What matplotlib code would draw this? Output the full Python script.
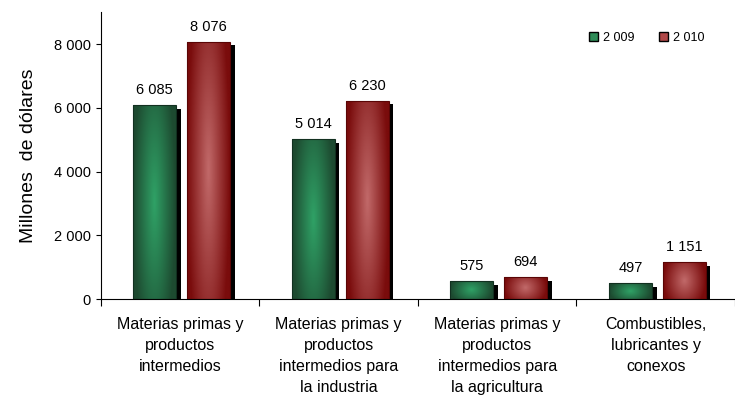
import numpy as np
import matplotlib.pyplot as plt
from matplotlib.colors import LinearSegmentedColormap
from matplotlib.patches import Patch

plt.rcParams['font.family'] = ['Liberation Sans', 'DejaVu Sans']

categories = ["Materias primas y\nproductos\nintermedios",
              "Materias primas y\nproductos\nintermedios para\nla industria",
              "Materias primas y\nproductos\nintermedios para\nla agricultura",
              "Combustibles,\nlubricantes y\nconexos"]
v2009 = [6085, 5014, 575, 497]
v2010 = [8076, 6230, 694, 1151]

def fmt(v):
    return f"{v:,}".replace(",", " ")

green = LinearSegmentedColormap.from_list("g", ["#1d4a30", "#2fa065"])
red = LinearSegmentedColormap.from_list("r", ["#7a0c0c", "#c06868"])

fig = plt.figure(figsize=(7.35, 4.07), dpi=100)
ax = fig.add_axes([0.137, 0.265, 0.863, 0.705])
ax.set_xlim(-0.5, 3.5)
ax.set_ylim(0, 9000)

w = 0.27
x = np.arange(len(categories))
yy, xx = np.mgrid[-1:1:60j, -1:1:60j]
grad = 1 - np.clip(np.sqrt(xx**2 + (yy * 0.6)**2), 0, 1)

for vals, off, cmap, edge in [(v2009, -0.16, green, "#123020"), (v2010, 0.18, red, "#5a0505")]:
    for xi, v in zip(x, vals):
        left = xi + off - w / 2
        ax.bar(left + 0.03, v - 120, width=w, align="edge", color="black", zorder=1)
        bars = ax.bar(left, v, width=w, align="edge", facecolor="none",
                      edgecolor=edge, linewidth=0.8, zorder=3)
        im = ax.imshow(grad, cmap=cmap, extent=(left, left + w, 0, v),
                       aspect="auto", zorder=2, origin="lower")
        im.set_clip_path(bars[0])
        ax.text(xi + off, v + 250, fmt(v), ha="center", va="bottom", fontsize=10.5)

ax.set_xticks(np.arange(-0.5, 4, 1))
ax.set_xticklabels([])
ax.tick_params(axis="x", length=5)
for xi, c in zip(x, categories):
    ax.text(xi, -550, c, ha="center", va="top", fontsize=11.5, linespacing=1.5)
ax.set_yticks(range(0, 9000, 2000))
ax.set_yticklabels([fmt(v) for v in range(0, 9000, 2000)], fontsize=10.5)
ax.set_ylabel("Millones  de dólares", fontsize=14, labelpad=12)
for s in ["top", "right"]:
    ax.spines[s].set_visible(False)

handles = [Patch(facecolor="#2e8b57", edgecolor="black", label="2 009"),
           Patch(facecolor="#b04848", edgecolor="black", label="2 010")]
ax.legend(handles=handles, loc="upper right", bbox_to_anchor=(0.97, 0.97), ncol=2, frameon=False,
          fontsize=9, handlelength=0.7, handleheight=0.7, columnspacing=2, handletextpad=0.4)

fig.savefig("out.png", dpi=100)
